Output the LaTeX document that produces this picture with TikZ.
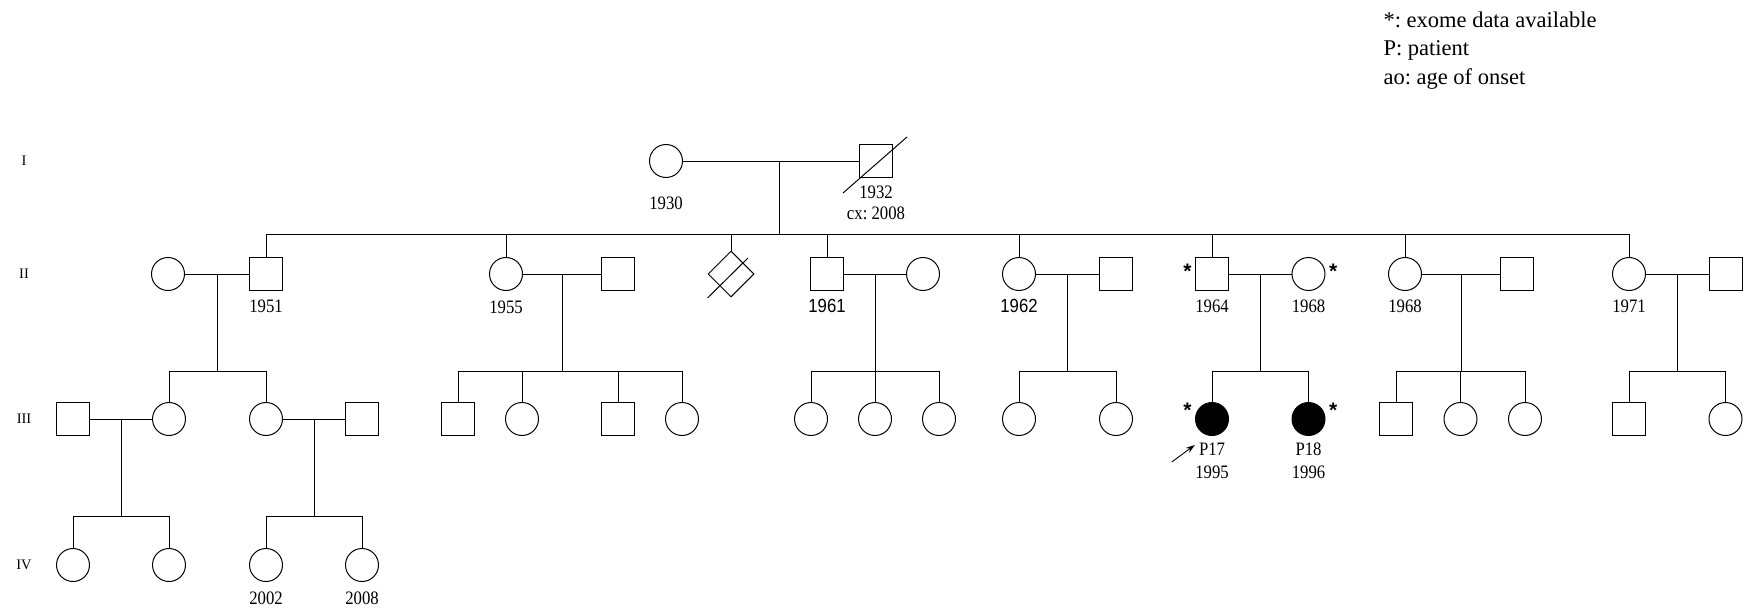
\documentclass[tikz,border=0pt]{standalone}
\usepackage{fontspec}
\setmainfont{Liberation Serif}
\newfontfamily\yearfont[FakeStretch=0.88]{Liberation Serif}
\newfontfamily\yearsans[FakeStretch=0.88]{Liberation Sans}
\newfontfamily\starfont{Liberation Sans}
\usetikzlibrary{arrows.meta, positioning, calc, shapes.geometric}
\frenchspacing

\begin{document}
\begin{tikzpicture}[
  x=1pt, y=-1pt, line width=1pt,
  male/.style={draw, rectangle, minimum size=33pt, inner sep=0pt},
  female/.style={draw, circle, minimum size=33pt, inner sep=0pt},
  unknown/.style={draw, diamond, minimum size=46pt, inner sep=0pt},
  affected/.style={fill=black},
  yr/.style={font=\yearfont\fontsize{19}{21}\selectfont, inner sep=0pt},
  yrsans/.style={font=\yearsans\fontsize{19}{21}\selectfont, inner sep=0pt},
  star/.style={font=\starfont\bfseries\fontsize{21}{21}\selectfont, inner sep=1pt},
  gen/.style={font=\fontsize{14.5}{16}\selectfont},
  legend/.style={font=\fontsize{22.5}{28.5}\selectfont, align=left, inner sep=0pt},
  >=Stealth
]
  \useasboundingbox (0,0) rectangle (1746,610);

  % Generation labels
  \node[gen] (g1) at (24,161) {I};
  \node[gen] (g2) at (24,274) {II};
  \node[gen] (g3) at (24,419) {III};
  \node[gen] (g4) at (24,565) {IV};

  % Legend
  \node[legend, anchor=north west] (key) at (1383,11)
    {*: exome data available\\P: patient\\ao: age of onset};

  % Generation I
  \node[female, label={[yr, label distance=18pt]below:1930}] (i1) at (666,161) {};
  \node[male, label={[yr, align=center, label distance=7.5pt]below:{1932\\cx: 2008}}]
    (i2) at (876,161) {};
  \draw ($(i2)+(-33,32)$) -- ($(i2)+(31,-24)$);

  % Generation II
  \node[female] (ii1) at (168,274) {};
  \node[male, label={[yr, label distance=8pt]below:1951}] (ii2) at (266,274) {};
  \node[female, label={[yr, label distance=9pt]below:1955}] (ii3) at (506,274) {};
  \node[male] (ii4) at (618,274) {};
  \node[unknown] (ii5) at (731,274) {};
  \draw ($(ii5)+(-23.5,24)$) -- ($(ii5)+(17,-16)$);
  \node[male, label={[yrsans, label distance=8pt]below:1961}] (ii6) at (827,274) {};
  \node[female] (ii7) at (923,274) {};
  \node[female, label={[yrsans, label distance=8pt]below:1962}] (ii8) at (1019,274) {};
  \node[male] (ii9) at (1116,274) {};
  \node[male, label={[yr, label distance=8pt]below:1964},
    label={[star, label distance=2pt, yshift=3pt]left:*}] (ii10) at (1212,274) {};
  \node[female, label={[yr, label distance=8pt]below:1968},
    label={[star, label distance=2pt, yshift=3pt]right:*}] (ii11) at (1308.5,274) {};
  \node[female, label={[yr, label distance=8pt]below:1968}] (ii12) at (1405,274) {};
  \node[male] (ii13) at (1517,274) {};
  \node[female, label={[yr, label distance=8pt]below:1971}] (ii14) at (1629,274) {};
  \node[male] (ii15) at (1725.5,274) {};

  % Generation III
  \foreach \n/\s/\x in {1/male/73, 2/female/169, 3/female/266, 4/male/362,
      5/male/458, 6/female/522, 7/male/618, 8/female/682, 9/female/811,
      10/female/875, 11/female/939, 12/female/1019, 13/female/1116,
      16/male/1396, 17/female/1460.5, 18/female/1525, 19/male/1629,
      20/female/1725.5}
    \node[\s] (iii\n) at (\x,419) {};
  \node[female, affected, label={[star, label distance=2pt, yshift=9pt]left:*}]
    (iii14) at (1212,419) {};
  \node[female, affected, label={[star, label distance=2pt, yshift=9pt]right:*}]
    (iii15) at (1308.5,419) {};
  \node[yr, font=\yearfont\fontsize{19}{23.3}\selectfont, align=center, below=6pt of iii14]
    (p17) {P17\\1995};
  \node[yr, font=\yearfont\fontsize{19}{23.3}\selectfont, align=center, below=6pt of iii15]
    (p18) {P18\\1996};
  \coordinate (ptail) at ($(p17.north west)+(-23,20)$);
  \draw[-{Stealth[length=9pt, width=6pt]}, line width=0.9pt]
    (ptail) -- ($(p17.north west)+(0,3)$);

  % Generation IV
  \node[female] (iv1) at (73,565) {};
  \node[female] (iv2) at (169,565) {};
  \node[female, label={[yr, label distance=9pt]below:2002}] (iv3) at (266,565) {};
  \node[female, label={[yr, label distance=9pt]below:2008}] (iv4) at (362,565) {};

  % Sibship of generation II
  \draw (i1) -- (i2);
  \coordinate (m0) at ($(i1)!.54!(i2)$);
  \coordinate (bar0) at ($(m0)+(0,73)$);
  \draw (m0) -- (bar0);
  \foreach \k in {ii2, ii3, ii5, ii6, ii8, ii10, ii12, ii14}
    \draw (bar0) -| (\k.north);

  % Couples and their children
  \foreach \mom/\dad/\kids in {ii1/ii2/{iii2,iii3}, ii3/ii4/{iii5,iii6,iii7,iii8},
      ii6/ii7/{iii9,iii10,iii11}, ii8/ii9/{iii12,iii13}, ii10/ii11/{iii14,iii15},
      ii12/ii13/{iii16,iii17,iii18}, ii14/ii15/{iii19,iii20},
      iii1/iii2/{iv1,iv2}, iii3/iii4/{iv3,iv4}} {
    \draw (\mom) -- (\dad);
    \coordinate (m) at ($(\mom)!.5!(\dad)$);
    \coordinate (bar) at ($(m)+(0,97)$);
    \draw (m) -- (bar);
    \foreach \k in \kids
      \draw (bar) -| (\k.north);
  }
\end{tikzpicture}
\end{document}
